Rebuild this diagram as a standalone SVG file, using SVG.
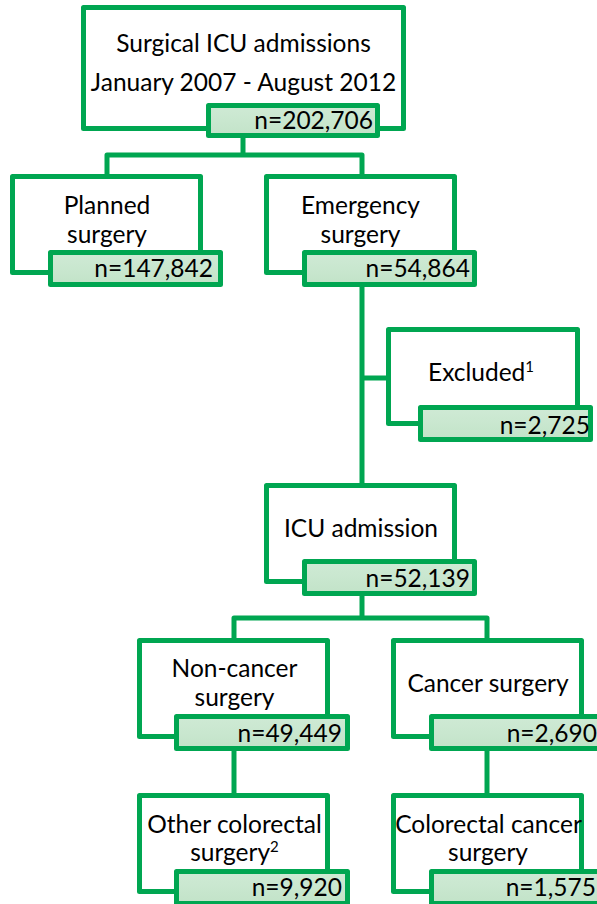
<svg xmlns="http://www.w3.org/2000/svg" width="597" height="904" viewBox="0 0 597 904">
<defs>
<linearGradient id="nfill" x1="0" y1="0" x2="0" y2="1">
<stop offset="0" stop-color="#CFEAD5"/>
<stop offset="0.5" stop-color="#C9E7CF"/>
<stop offset="1" stop-color="#C2E3C8"/>
</linearGradient>
<style>
.box{fill:#FFFFFF;stroke:#00A651;stroke-width:5;stroke-linejoin:round}
.nbox{fill:url(#nfill);stroke:#00A651;stroke-width:5;stroke-linejoin:round}
.conn{fill:none;stroke:#00A651;stroke-width:5;stroke-linejoin:round}
text{font-family:Lato,"Open Sans","Liberation Sans",sans-serif;font-size:24.5px;fill:#000000}
.c{text-anchor:middle}
.r{text-anchor:end}
.sup{font-size:15px}
</style>
</defs>
<rect width="597" height="904" fill="#FFFFFF"/>
<g id="connectors">
<path class="conn" d="M243,136 V155 M107,176 V155 H362 V176"/>
<path class="conn" d="M362,285 V485 M362,378 H388"/>
<path class="conn" d="M362,594 V618 M234,640 V618 H487 V640"/>
<path class="conn" d="M234,749 V795"/>
<path class="conn" d="M487,749 V795"/>
</g>
<g id="node-total">
<rect class="box" x="83.5" y="7.5" width="320" height="121"/>
<text class="c" x="243.5" y="52">Surgical ICU admissions</text>
<text class="c" x="243.5" y="91">January 2007 - August 2012</text>
<rect class="nbox" x="208.5" y="105.5" width="169" height="30"/>
<text class="r" x="373" y="129">n=202,706</text>
</g>
<g id="node-planned">
<rect class="box" x="12.5" y="176.5" width="188" height="96"/>
<text class="c" x="107" y="214">Planned</text>
<text class="c" x="107" y="243">surgery</text>
<rect class="nbox" x="50.5" y="252.5" width="170" height="32"/>
<text class="r" x="213" y="277">n=147,842</text>
</g>
<g id="node-emergency">
<rect class="box" x="266.5" y="176.5" width="188" height="96"/>
<text class="c" x="360.5" y="214">Emergency</text>
<text class="c" x="360.5" y="243">surgery</text>
<rect class="nbox" x="304.5" y="252.5" width="170" height="32"/>
<text class="r" x="470" y="277">n=54,864</text>
</g>
<g id="node-excluded">
<rect class="box" x="388.5" y="329.5" width="189" height="94"/>
<text class="c" x="481" y="381">Excluded<tspan class="sup" dy="-9">1</tspan></text>
<rect class="nbox" x="420.5" y="407.5" width="170" height="32"/>
<text class="r" x="590" y="434">n=2,725</text>
</g>
<g id="node-icu">
<rect class="box" x="266.5" y="485.5" width="188" height="96"/>
<text class="c" x="361" y="537">ICU admission</text>
<rect class="nbox" x="304.5" y="561.5" width="170" height="32"/>
<text class="r" x="470" y="587">n=52,139</text>
</g>
<g id="node-noncancer">
<rect class="box" x="139.5" y="640.5" width="188" height="96"/>
<text class="c" x="234.5" y="677">Non-cancer</text>
<text class="c" x="234.5" y="706">surgery</text>
<rect class="nbox" x="176.5" y="716.5" width="171" height="32"/>
<text class="r" x="342" y="742">n=49,449</text>
</g>
<g id="node-cancer">
<rect class="box" x="393.5" y="640.5" width="188" height="96"/>
<text class="c" x="488" y="692">Cancer surgery</text>
<rect class="nbox" x="431.5" y="716.5" width="175" height="32"/>
<text class="r" x="597" y="742">n=2,690</text>
</g>
<g id="node-othercolorectal">
<rect class="box" x="139.5" y="795.5" width="188" height="96"/>
<text class="c" x="234.5" y="833">Other colorectal</text>
<text class="c" x="234.5" y="861">surgery<tspan class="sup" dy="-9">2</tspan></text>
<rect class="nbox" x="176.5" y="871.5" width="171" height="32"/>
<text class="r" x="342" y="896">n=9,920</text>
</g>
<g id="node-colorectalcancer">
<rect class="box" x="393.5" y="795.5" width="188" height="96"/>
<text class="c" x="488.5" y="833">Colorectal cancer</text>
<text class="c" x="488" y="861">surgery</text>
<rect class="nbox" x="431.5" y="871.5" width="175" height="32"/>
<text class="r" x="596" y="896">n=1,575</text>
</g>
</svg>
